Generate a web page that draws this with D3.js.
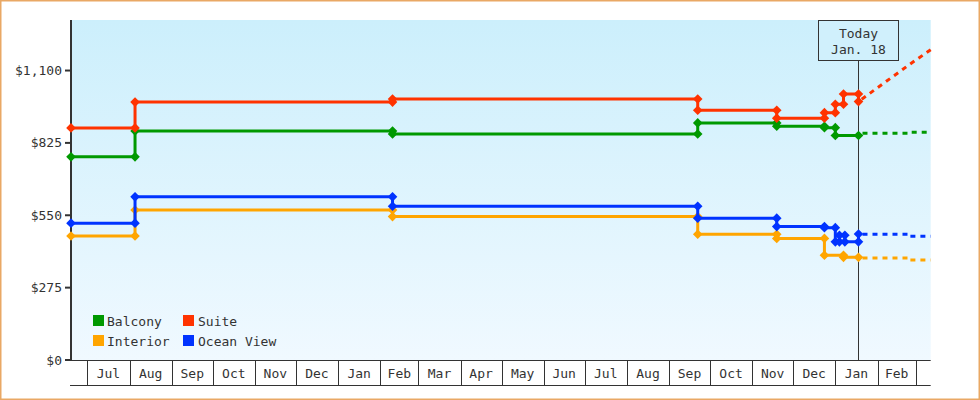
<!DOCTYPE html>
<html><head><meta charset="utf-8">
<script src="https://cdn.jsdelivr.net/npm/d3@7"></script>
<style>
html,body{margin:0;padding:0;background:#fff;}
svg{display:block;}
text{font-family:"DejaVu Sans Mono",monospace;font-size:13px;fill:#333;}
</style></head>
<body>
<svg id="chart" width="980" height="400"></svg>
<script>
// ---- data ----
const seriesNames = ["Balcony", "Suite", "Interior", "Ocean View"];
const seriesColors = ["#009900", "#ff3300", "#ffa500", "#0033ff"];

const balconyDates  = ["2021-06-19","2021-08-05","2022-02-10","2022-09-22","2022-11-19","2022-12-24","2023-01-01","2023-01-18"];
const balconyPrices = [772, 870, 859, 901, 888, 883, 853, 853];

const suiteDates  = ["2021-06-19","2021-08-05","2022-02-10","2022-09-22","2022-11-19","2022-12-24","2023-01-01","2023-01-07","2023-01-18"];
const suitePrices = [882, 980, 992, 949, 919, 940, 972, 1011, 982];

const interiorDates  = ["2021-06-19","2021-08-05","2022-02-10","2022-09-22","2022-11-19","2022-12-24","2023-01-07","2023-01-18"];
const interiorPrices = [471, 570, 545, 478, 462, 398, 390, 390];

const oceanDates  = ["2021-06-19","2021-08-05","2022-02-10","2022-09-22","2022-11-19","2022-12-24","2023-01-01","2023-01-04","2023-01-08","2023-01-18"];
const oceanPrices = [520, 620, 584, 539, 507, 503, 449, 474, 449, 479];

// forecasts (dashed)
const forecastDates = ["2023-01-18","2023-02-25","2023-03-12"];
const balconyForecast  = [862, 865, 865];
const suiteForecast    = [982, 1125, 1179];
const interiorForecast = [388, 380, 380];
const oceanForecast    = [478, 470, 470];

const yTicks = [0, 275, 550, 825, 1100];
const monthLabels = ["Jul","Aug","Sep","Oct","Nov","Dec","Jan","Feb","Mar","Apr","May","Jun","Jul","Aug","Sep","Oct","Nov","Dec","Jan","Feb"];
const domainStart = "2021-06-19", domainEnd = "2023-03-12";
const todayDate = "2023-01-18";
const todayLabel = ["Today", "Jan. 18"];
const yMax = 1292;

// ---- layout ----
const P = {left:71, right:930.7, top:20, bottom:360, axisBottom:385};
const svg = d3.select("#chart");
const parse = d3.utcParse("%Y-%m-%d");

const x = d3.scaleUtc().domain([parse(domainStart), parse(domainEnd)]).range([P.left, P.right]);
const y = d3.scaleLinear().domain([0, yMax]).range([P.bottom, P.top]);

// border
svg.append("rect").attr("x",0.75).attr("y",0.75).attr("width",978.5).attr("height",398.5)
  .attr("fill","#fff").attr("stroke","#e9a865").attr("stroke-width",1.5);

// background gradient
const defs = svg.append("defs");
const g = defs.append("linearGradient").attr("id","bg").attr("x1",0).attr("y1",0).attr("x2",0).attr("y2",1);
g.append("stop").attr("offset","0%").attr("stop-color","#cceffc");
g.append("stop").attr("offset","100%").attr("stop-color","#f0f9ff");
svg.append("rect").attr("x",P.left).attr("y",P.top).attr("width",P.right-P.left).attr("height",P.bottom-P.top)
  .attr("fill","url(#bg)");

// x axis month band
const months = d3.utcMonths(x.domain()[0], x.domain()[1]);
const axisG = svg.append("g");
axisG.append("line").attr("x1",P.left-1).attr("x2",P.right).attr("y1",P.bottom+0.5).attr("y2",P.bottom+0.5)
  .attr("stroke","#333").attr("stroke-width",1);
axisG.append("line").attr("x1",P.left-1).attr("x2",P.right).attr("y1",P.axisBottom+0.5).attr("y2",P.axisBottom+0.5)
  .attr("stroke","#333").attr("stroke-width",1);
months.forEach(m => {
  const xx = Math.round(x(m)) + 0.5;
  axisG.append("line").attr("x1",xx).attr("x2",xx).attr("y1",P.bottom).attr("y2",P.axisBottom)
    .attr("stroke","#333").attr("stroke-width",1);
});
months.forEach((m,i) => {
  if (i >= monthLabels.length) return;
  const next = months[i+1] || x.domain()[1];
  axisG.append("text").attr("x",(x(m)+x(next))/2).attr("y",(P.bottom+P.axisBottom)/2+1)
    .attr("text-anchor","middle").attr("dominant-baseline","central").text(monthLabels[i]);
});

// y axis
const yAxis = svg.append("g");
yAxis.append("line").attr("x1",P.left).attr("x2",P.left).attr("y1",P.top).attr("y2",P.bottom+1)
  .attr("stroke","#333").attr("stroke-width",2);
const fmt = d3.format("$,");
yTicks.forEach(t => {
  yAxis.append("line").attr("x1",P.left-6).attr("x2",P.left).attr("y1",y(t)).attr("y2",y(t))
    .attr("stroke","#333").attr("stroke-width",2);
  yAxis.append("text").attr("x",P.left-9).attr("y",y(t)).attr("text-anchor","end")
    .attr("dominant-baseline","central").text(fmt(t));
});

// today line
const tx = Math.round(x(parse(todayDate))) + 0.5;
svg.append("line").attr("x1",tx).attr("x2",tx).attr("y1",60).attr("y2",P.bottom)
  .attr("stroke","#333").attr("stroke-width",1);

// series
const series = [
  {name:"Interior", color:seriesColors[2], dates:interiorDates, prices:interiorPrices, fc:interiorForecast, curve:d3.curveStepAfter},
  {name:"Balcony", color:seriesColors[0], dates:balconyDates, prices:balconyPrices, fc:balconyForecast, curve:d3.curveStepAfter},
  {name:"Suite", color:seriesColors[1], dates:suiteDates, prices:suitePrices, fc:suiteForecast, curve:d3.curveLinear},
  {name:"Ocean View", color:seriesColors[3], dates:oceanDates, prices:oceanPrices, fc:oceanForecast, curve:d3.curveStepAfter},
];
const diamond = "M0,-4.8L4.8,0L0,4.8L-4.8,0Z";

series.forEach(s => {
  const pts = s.dates.map((d,i) => ({d:parse(d), v:s.prices[i]}));
  const fpts = forecastDates.map((d,i) => ({d:parse(d), v:s.fc[i]}));
  svg.append("path").datum(fpts)
    .attr("d", d3.line().x(p=>x(p.d)).y(p=>y(p.v)).curve(s.curve))
    .attr("fill","none").attr("stroke",s.color).attr("stroke-width",3).attr("stroke-dasharray","5,5")
    .attr("stroke-dashoffset",-4);
  svg.append("path").datum(pts)
    .attr("d", d3.line().x(p=>x(p.d)).y(p=>y(p.v)).curve(d3.curveStepAfter))
    .attr("fill","none").attr("stroke",s.color).attr("stroke-width",3);
  const marks = [pts[0]];
  for (let i=1;i<pts.length;i++){
    marks.push({d:pts[i].d, v:pts[i-1].v});
    if (pts[i].v !== pts[i-1].v) marks.push(pts[i]);
  }
  svg.append("g").selectAll("path").data(marks).join("path")
    .attr("d",diamond).attr("transform",p=>`translate(${x(p.d)},${y(p.v)})`)
    .attr("fill",s.color);
});

// today box
svg.append("rect").attr("x",tx-40).attr("y",P.top+0.5).attr("width",80).attr("height",40)
  .attr("fill","#d0f0fc").attr("stroke","#333").attr("stroke-width",1);
todayLabel.forEach((t,i) => {
  svg.append("text").attr("x",tx).attr("y",33+i*16.5).attr("text-anchor","middle")
    .attr("dominant-baseline","central").text(t);
});

// legend
const legendPos = [[93,315],[183,315],[93,335],[183,335]];
seriesNames.forEach((name,i) => {
  const [lx,ly] = legendPos[i];
  svg.append("rect").attr("x",lx).attr("y",ly).attr("width",11).attr("height",11).attr("fill",seriesColors[i]);
  svg.append("text").attr("x",lx + (i%2===0 ? 14 : 15)).attr("y",ly+6).attr("dominant-baseline","central")
    .text(name);
});
</script>
</body></html>
